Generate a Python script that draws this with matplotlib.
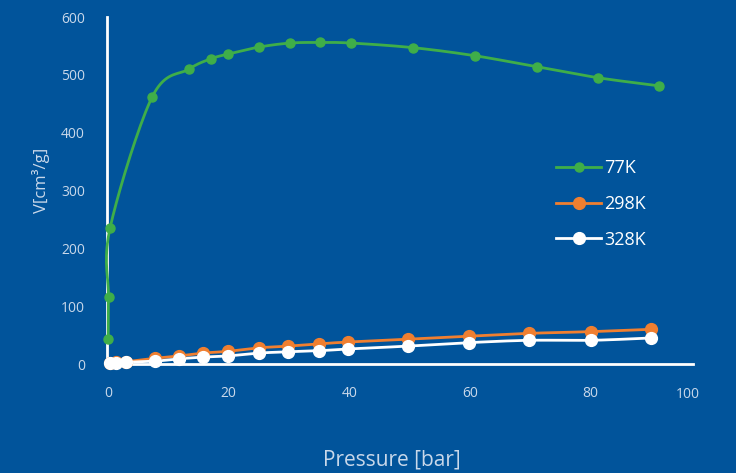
import numpy as np
import matplotlib.pyplot as plt

# isotherm data
p_77 = [0.0, 0.05, 0.3, 7.3, 13.4, 17.1, 19.9, 25.0, 30.2, 35.2, 40.3, 50.6, 60.9, 71.1, 81.3, 91.4]
v_77 = [43, 116, 235, 462, 510, 528, 536, 548, 555, 556, 555, 547, 533, 514, 495, 481]

p_298 = [0.3, 1.3, 3.0, 7.8, 11.8, 15.8, 19.9, 25.0, 29.9, 35.0, 39.8, 49.8, 59.9, 69.8, 80.1, 90.0]
v_298 = [2, 3, 4, 10, 14, 19, 22, 28, 31, 35, 38, 43, 48, 53, 56, 60]

p_328 = [0.3, 1.3, 3.0, 7.8, 11.8, 15.8, 19.9, 25.0, 29.9, 35.0, 39.8, 49.8, 59.9, 69.8, 80.1, 90.0]
v_328 = [1, 2, 3, 5, 9, 12, 14, 19, 21, 23, 26, 31, 37, 41, 41, 45]

xticks = [0, 20, 40, 60, 80]
yticks = [0, 100, 200, 300, 400, 500, 600]

bg = '#01549b'
tick_col = '#c9d8ea'


def smooth(x, y, n=20):
    # catmull-rom curve through the points, for drawing only
    x = np.asarray(x, float)
    y = np.asarray(y, float)
    px = np.concatenate([[x[0]], x, [x[-1]]])
    py = np.concatenate([[y[0]], y, [y[-1]]])
    xs, ys = [], []
    t = np.linspace(0, 1, n)
    for i in range(1, len(px) - 2):
        for arr, out in ((px, xs), (py, ys)):
            p0, p1, p2, p3 = arr[i - 1], arr[i], arr[i + 1], arr[i + 2]
            out.extend(0.5 * (2 * p1 + (-p0 + p2) * t
                              + (2 * p0 - 5 * p1 + 4 * p2 - p3) * t ** 2
                              + (-p0 + 3 * p1 - 3 * p2 + p3) * t ** 3))
    return np.array(xs), np.array(ys)


plt.rcParams['font.family'] = ['Open Sans', 'DejaVu Sans']

fig = plt.figure(figsize=(7.36, 4.73), dpi=100, facecolor=bg)
ax = fig.add_axes([0.1454, 0.2304, 0.796, 0.7336])
ax.set_facecolor(bg)

series = [
    (p_77, v_77, '#3fae49', '77K', 6.5),
    (p_298, v_298, '#f07f30', '298K', 8.5),
    (p_328, v_328, '#ffffff', '328K', 8.5),
]
for x, y, c, lab, ms in series:
    sx, sy = smooth(x, y)
    ax.plot(sx, sy, color=c, lw=2, clip_on=False, zorder=3)
    ax.plot(x, y, 'o', color=c, ms=ms, clip_on=False, zorder=4)
    ax.plot([], [], '-o', color=c, lw=2, ms=ms, label=lab)

ax.set_xlim(-0.2, 97)
ax.set_ylim(0, 600)
ax.set_xticks(xticks)
ax.set_yticks(yticks)
ax.tick_params(length=0, colors=tick_col, labelsize=10)
ax.tick_params(axis='x', pad=16)
ax.tick_params(axis='y', pad=16)
# last x label sits at the end of the axis line
ax.text(0.9915, -0.0865, '100', transform=ax.transAxes, color=tick_col,
        fontsize=10, ha='center', va='center')

for s in ['top', 'right']:
    ax.spines[s].set_visible(False)
for s in ['left', 'bottom']:
    ax.spines[s].set_color('white')
    ax.spines[s].set_linewidth(2)

ax.set_ylabel('V[cm³/g]', color=tick_col, fontsize=12)
ax.yaxis.set_label_coords(-0.098, 0.53)
ax.set_xlabel('Pressure [bar]', color=tick_col, fontsize=15)
ax.xaxis.set_label_coords(0.486, -0.245)

leg = ax.legend(loc='upper left', bbox_to_anchor=(0.739, 0.637), frameon=False,
                fontsize=13, handlelength=2.5, handletextpad=0.15,
                labelspacing=0.98)
for t in leg.get_texts():
    t.set_color('white')

fig.savefig('out.png', dpi=100, facecolor=bg)
